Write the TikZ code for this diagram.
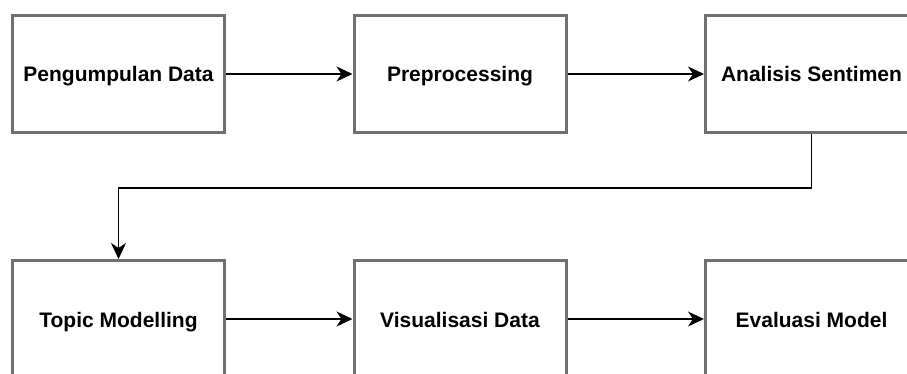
\documentclass[tikz,border=0pt]{standalone}
\usepackage{fontspec}
\setmainfont{Liberation Sans}
\usepackage{xcolor}
\usetikzlibrary{positioning}
\usetikzlibrary{arrows.meta}
\definecolor{boxgray}{HTML}{707070}

\begin{document}
\begin{tikzpicture}[x=1pt, y=1pt, main/.style = {draw=boxgray, line width=3pt, fill=white, minimum width=212pt, minimum height=117pt, inner sep=0pt, text height=20pt, text depth=4pt, font=\bfseries\fontsize{21}{25}\selectfont}, arrow/.style = {-{Stealth[length=16pt,width=15pt,inset=5pt]}, line width=1.7pt, black}]
\useasboundingbox (0,0) rectangle (907,-374);
\node[main] (A) at (118.5,-74) {Pengumpulan Data};
\node[main] (B) at (460,-74) {Preprocessing};
\node[main] (C) at (811.5,-74) {Analisis Sentimen};
\node[main] (D) at (118.5,-319) {Topic Modelling};
\node[main] (E) at (460,-319) {Visualisasi Data};
\node[main] (F) at (811.5,-319) {Evaluasi Model};
\draw[arrow] (A) -- (B);
\draw[arrow] (B) -- (C);
\draw[arrow] (C.south) -- ++(0,-54) -| (D.north);
\draw[arrow] (D) -- (E);
\draw[arrow] (E) -- (F);
\end{tikzpicture}
\end{document}
